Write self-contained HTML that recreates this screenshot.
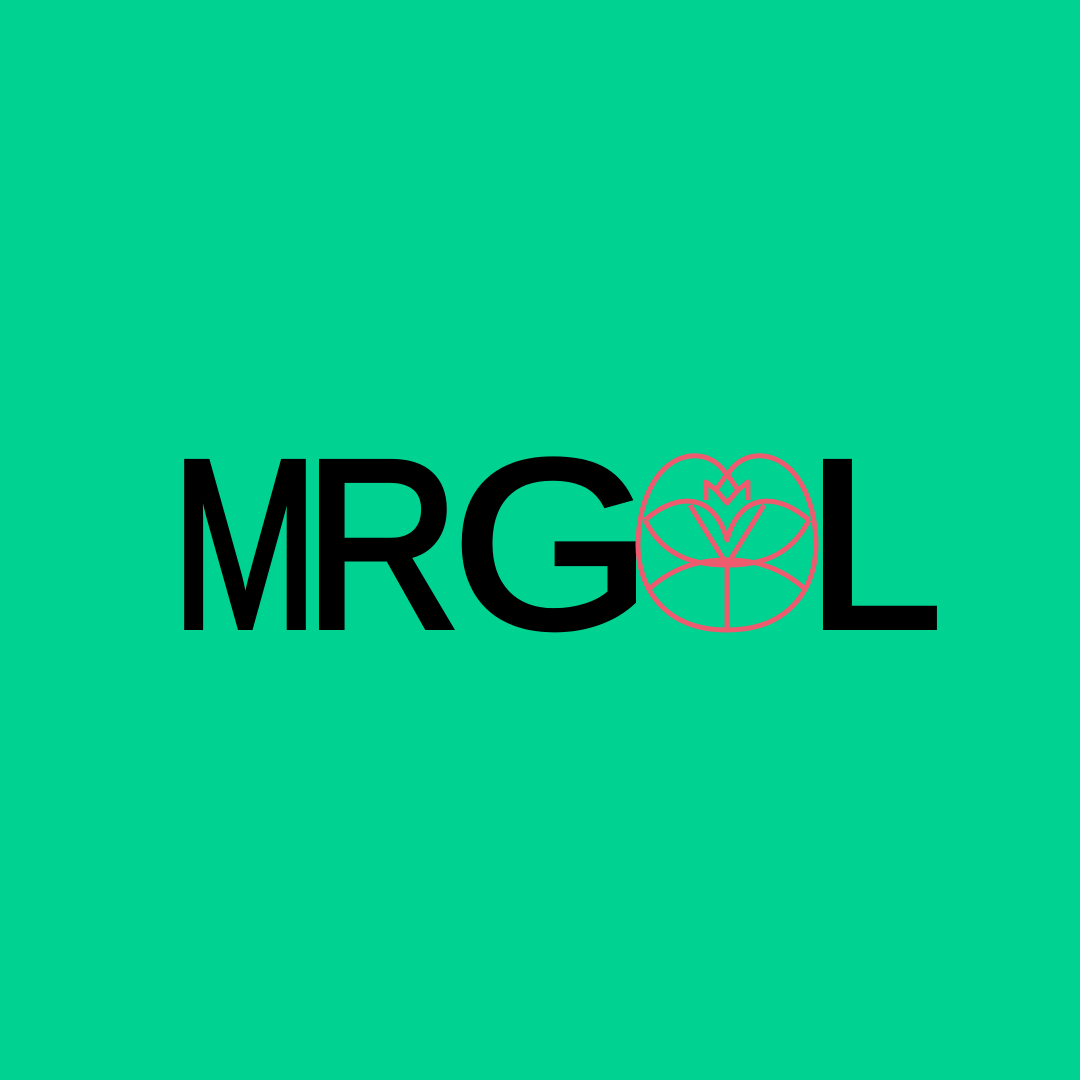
<!DOCTYPE html>
<html><head><meta charset="utf-8"><style>
html,body{margin:0;padding:0;background:#00d292;width:1080px;height:1080px;overflow:hidden}
svg{display:block}
</style></head><body>
<svg width="1080" height="1080" viewBox="0 0 1080 1080">
<rect x="0" y="0" width="1080" height="1080" fill="#00d292"/>
<g font-family="Liberation Sans, sans-serif" font-size="240" fill="#000" stroke="#000" stroke-width="6">
<text x="172" y="627" textLength="146" lengthAdjust="spacingAndGlyphs">M</text>
<text x="304" y="627" textLength="156" lengthAdjust="spacingAndGlyphs">R</text>
<text x="452" y="627" textLength="200" lengthAdjust="spacingAndGlyphs">G</text>
<text x="806" y="627" textLength="136" lengthAdjust="spacingAndGlyphs">L</text>
</g>
<g fill="none" stroke="#ee5a6e" stroke-width="5" stroke-linejoin="round">
<path d="M727,630 C662,630 638,585 638,545 C638,500 658,460 690,456 C710,454 722,466 727,476 C732,466 744,454 764,456 C796,460 816,500 816,545 C816,585 792,630 727,630 Z"/>
<path d="M645,520 C680,490 715,495 727,540 C739,495 774,490 809,520"/>
<path d="M645,520 C665,560 700,565 727,565 C754,565 789,560 809,520"/>
<path d="M690,505 C705,530 715,545 727,565 M764,505 C749,530 739,545 727,565"/>
<path d="M648,590 C680,560 715,560 727,560 C739,560 774,560 806,590"/>
<line x1="727" y1="562" x2="727" y2="630"/>
<path d="M706,500 L706,482 L716,490 L727,474 L738,490 L748,482 L748,500"/>
<path d="M716,490 L727,503 L738,490"/>
</g>
</svg>
</body></html>
